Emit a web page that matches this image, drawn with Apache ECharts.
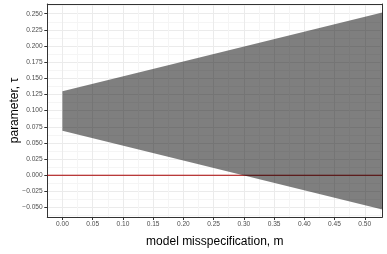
<!DOCTYPE html>
<html><head><meta charset="utf-8">
<script src="https://cdn.jsdelivr.net/npm/echarts@6/dist/echarts.min.js"></script>
<style>html,body{margin:0;padding:0;background:#fff}#c{width:387px;height:254px}</style>
</head><body><div id="c"></div>
<script>
// ---- data ----
const mValues = [0, 0.529];
const upperTau = [0.130, 0.252];
const lowerTau = [0.069, -0.053];
const zeroLineValue = 0;
const xMajorTicks = [0, 0.05, 0.10, 0.15, 0.20, 0.25, 0.30, 0.35, 0.40, 0.45, 0.50];
const xMinorTicks = [-0.025, 0.025, 0.075, 0.125, 0.175, 0.225, 0.275, 0.325, 0.375, 0.425, 0.475, 0.525];
const yMajorTicks = [-0.05, -0.025, 0, 0.025, 0.05, 0.075, 0.10, 0.125, 0.15, 0.175, 0.20, 0.225, 0.25];
const yMinorTicks = [-0.0625, -0.0375, -0.0125, 0.0125, 0.0375, 0.0625, 0.0875, 0.1125, 0.1375, 0.1625, 0.1875, 0.2125, 0.2375, 0.2625];
const xTitle = 'model misspecification, m';
const yTitle = 'parameter, τ';

const X_MIN = -0.025, X_MAX = 0.529, Y_MIN = -0.0646, Y_MAX = 0.265;
const FONT = 'Liberation Sans, Arial, sans-serif';

const bandData = mValues.map((m, i) => [m, lowerTau[i], upperTau[i]]);

const fmtY = v => (v < 0 ? '\u2212' : '') + Math.abs(v).toFixed(3);
const fmtX = v => (v < 0 ? '\u2212' : '') + Math.abs(v).toFixed(2);

const borderLine = {show: true, onZero: false, lineStyle: {color: '#333333', width: 1}};
const labelStyle = {fontSize: 6.6, color: '#4d4d4d', fontFamily: FONT};

const chart = echarts.init(document.getElementById('c'), null, {renderer: 'canvas'});
chart.setOption({
  animation: false,
  backgroundColor: '#ffffff',
  grid: {left: 47.3, right: 4.7, top: 4, bottom: 37, containLabel: false, outerBoundsMode: 'none'},
  xAxis: [
    {type: 'value', min: X_MIN, max: X_MAX, position: 'bottom',
     axisLine: borderLine,
     axisTick: {show: true, length: 3, lineStyle: {color: '#333333'}, customValues: xMajorTicks},
     axisLabel: Object.assign({customValues: xMajorTicks, formatter: fmtX, margin: 4}, labelStyle),
     splitLine: {show: true, lineStyle: {color: '#ebebeb', width: 1}}},
    {type: 'value', min: X_MIN, max: X_MAX, position: 'top',
     axisLine: borderLine,
     axisTick: {show: false, customValues: xMinorTicks},
     axisLabel: {show: false, customValues: xMinorTicks},
     splitLine: {show: true, lineStyle: {color: '#f5f5f5', width: 1}}}
  ],
  yAxis: [
    {type: 'value', min: Y_MIN, max: Y_MAX, position: 'left',
     axisLine: borderLine,
     axisTick: {show: true, length: 3, lineStyle: {color: '#333333'}, customValues: yMajorTicks},
     axisLabel: Object.assign({customValues: yMajorTicks, formatter: fmtY, margin: 4.6}, labelStyle),
     splitLine: {show: true, lineStyle: {color: '#ebebeb', width: 1}}},
    {type: 'value', min: Y_MIN, max: Y_MAX, position: 'right',
     axisLine: borderLine,
     axisTick: {show: false, customValues: yMinorTicks},
     axisLabel: {show: false, customValues: yMinorTicks},
     splitLine: {show: true, lineStyle: {color: '#f5f5f5', width: 1}}}
  ],
  series: [
    {type: 'custom', name: 'zero', xAxisIndex: 0, yAxisIndex: 0, z: 2, silent: true,
     data: [[X_MIN, zeroLineValue, X_MAX]],
     encode: {x: [0, 2], y: 1},
     renderItem: (params, api) => {
       const a = api.coord([api.value(0), api.value(1)]);
       const b = api.coord([api.value(2), api.value(1)]);
       return {type: 'line', shape: {x1: a[0], y1: a[1], x2: b[0], y2: b[1]},
               style: {stroke: '#a80000', lineWidth: 1}};
     }},
    {type: 'custom', name: 'band', xAxisIndex: 0, yAxisIndex: 0, z: 5, silent: true,
     data: bandData, encode: {x: 0, y: [1, 2]}, clip: true,
     renderItem: (params, api) => {
       const i = params.dataIndex;
       if (i >= mValues.length - 1) return null;
       const pts = [
         api.coord([mValues[i], upperTau[i]]),
         api.coord([mValues[i + 1], upperTau[i + 1]]),
         api.coord([mValues[i + 1], lowerTau[i + 1]]),
         api.coord([mValues[i], lowerTau[i]])
       ];
       return {type: 'polygon', shape: {points: pts}, style: {fill: 'rgba(0,0,0,0.5)'}};
     }}
  ],
  graphic: [
    {type: 'text', x: 214.8, y: 241.7, style: {text: xTitle, fill: '#000', font: '12px ' + FONT, textAlign: 'center', textVerticalAlign: 'middle'}},
    {type: 'text', x: 14.3, y: 110.5, rotation: Math.PI / 2, style: {text: yTitle, fill: '#000', font: '12px ' + FONT, textAlign: 'center', textVerticalAlign: 'middle'}}
  ]
});
</script></body></html>
